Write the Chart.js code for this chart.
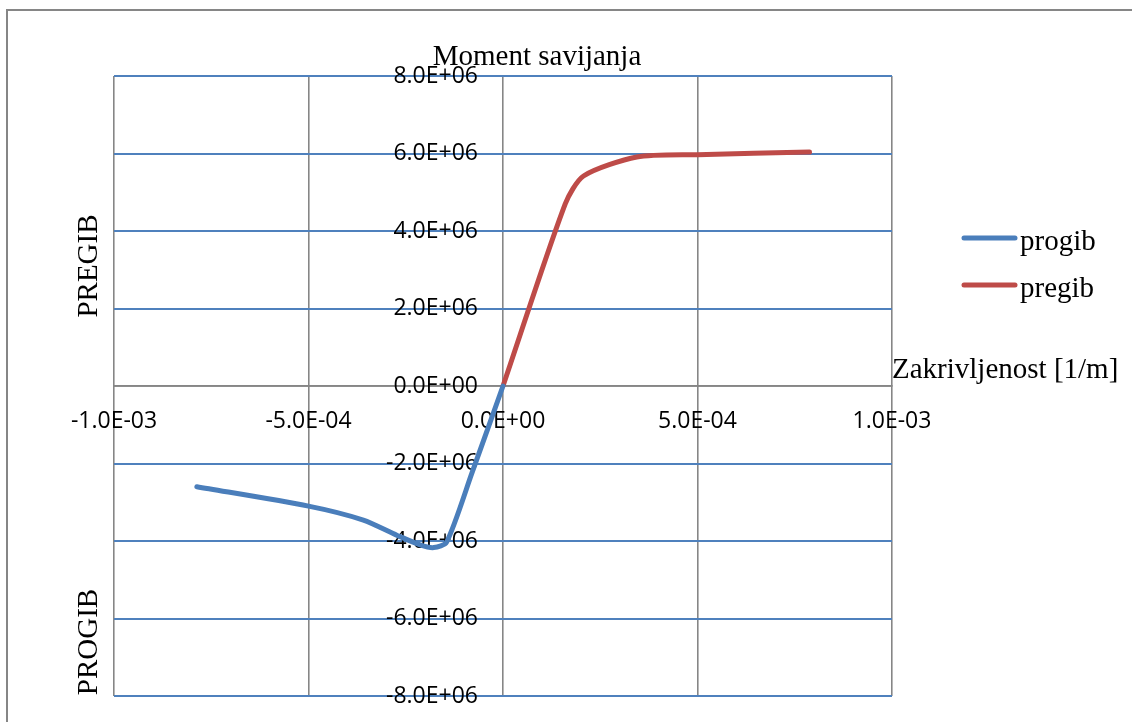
<!DOCTYPE html>
<html>
<head>
<meta charset="utf-8">
<script src="https://cdn.jsdelivr.net/npm/chart.js@4.4.0/dist/chart.umd.min.js"></script>
<style>
  body { margin: 0; background: #fff; }
</style>
</head>
<body>
<canvas id="chart" width="1133" height="722"></canvas>
<script>
// data
const progibX = [-7.87e-4, -5e-4, -3.59e-4, -2.73e-4, -2.13e-4, -1.78e-4, -1.45e-4, -0.8e-4, 0];
const progibY = [-2.6e6, -3.1e6, -3.46e6, -3.85e6, -4.1e6, -4.17e6, -4.03e6, -2.25e6, 0];
const pregibX = [0, 1.6e-4, 2.07e-4, 3.44e-4, 5e-4, 7.88e-4];
const pregibY = [0, 4.7e6, 5.42e6, 5.91e6, 5.97e6, 6.04e6];

const xTickValues = [-1e-3, -5e-4, 0, 5e-4, 1e-3];
const xTickLabels = ['-1.0E-03', '-5.0E-04', '0.0E+00', '5.0E-04', '1.0E-03'];
const yTickValues = [-8e6, -6e6, -4e6, -2e6, 0, 2e6, 4e6, 6e6, 8e6];
const yTickLabels = ['-8.0E+06', '-6.0E+06', '-4.0E+06', '-2.0E+06', '0.0E+00',
                     '2.0E+06', '4.0E+06', '6.0E+06', '8.0E+06'];

const seriesNames = ['progib', 'pregib'];
const seriesColors = ['#4a7ebb', '#be4b48'];

const GRAY = '#868686';
const BLUE_GRID = '#4f81bd';
const SERIF = '"Liberation Serif", "Times New Roman", serif';

const toPoints = (xs, ys) => xs.map((x, i) => ({ x: x, y: ys[i] }));

// frame, titles and legend drawn on the canvas
const decorations = {
  id: 'decorations',
  beforeDraw(chart) {
    const ctx = chart.ctx;
    ctx.save();
    ctx.strokeStyle = GRAY;
    ctx.lineWidth = 2;
    ctx.beginPath();
    ctx.moveTo(7, 722);
    ctx.lineTo(7, 10);
    ctx.lineTo(1132, 10);
    ctx.stroke();
    ctx.restore();
  },
  afterDraw(chart) {
    const ctx = chart.ctx;
    ctx.save();
    ctx.fillStyle = '#000';
    ctx.font = '29px ' + SERIF;
    ctx.textBaseline = 'alphabetic';

    ctx.textAlign = 'center';
    ctx.fillText('Moment savijanja', 537, 65);

    ctx.textAlign = 'left';
    ctx.fillText('Zakrivljenost [1/m]', 892, 378);

    // side labels
    ctx.textAlign = 'center';
    [['PREGIB', 266], ['PROGIB', 642]].forEach(([t, y]) => {
      ctx.save();
      ctx.translate(97, y);
      ctx.rotate(-Math.PI / 2);
      ctx.fillText(t, 0, 0);
      ctx.restore();
    });

    // legend
    ctx.textAlign = 'left';
    chart.data.datasets.forEach((ds, i) => {
      const y = 238 + 47 * i;
      ctx.strokeStyle = ds.borderColor;
      ctx.lineWidth = 5;
      ctx.lineCap = 'round';
      ctx.beginPath();
      ctx.moveTo(964, y);
      ctx.lineTo(1015, y);
      ctx.stroke();
      ctx.fillText(ds.label, 1020, y + 12);
    });
    ctx.restore();
  }
};

// y labels sit ~25px left of the zero line; the line itself is the x grid at 0
const yLabelShift = -25 / 389 * 1e-3;

new Chart(document.getElementById('chart'), {
  type: 'scatter',
  data: {
    datasets: [{
      label: seriesNames[0],
      data: toPoints(progibX, progibY),
      borderColor: seriesColors[0],
      backgroundColor: seriesColors[0],
      borderWidth: 5,
      showLine: true,
      pointRadius: 0,
      tension: 0.25,
      borderCapStyle: 'round',
      borderJoinStyle: 'round'
    }, {
      label: seriesNames[1],
      data: toPoints(pregibX, pregibY),
      borderColor: seriesColors[1],
      backgroundColor: seriesColors[1],
      borderWidth: 5,
      showLine: true,
      pointRadius: 0,
      tension: 0.25,
      borderCapStyle: 'round',
      borderJoinStyle: 'round'
    }]
  },
  options: {
    responsive: false,
    animation: false,
    devicePixelRatio: 1,
    layout: { padding: { left: 114, top: 76, right: 241, bottom: 26 } },
    plugins: {
      legend: { display: false },
      tooltip: { enabled: false }
    },
    scales: {
      x: {
        type: 'linear',
        position: { y: 0 },
        min: -1e-3,
        max: 1e-3,
        afterBuildTicks: s => { s.ticks = xTickValues.map(v => ({ value: v })); },
        ticks: {
          callback: (v, i) => xTickLabels[i],
          font: { family: '"Open Sans"', size: 23 },
          color: '#000',
          padding: 22,
          maxRotation: 0
        },
        grid: { color: GRAY, lineWidth: 1.6, drawTicks: false },
        border: { color: GRAY, width: 1.8 }
      },
      y: {
        type: 'linear',
        position: { x: yLabelShift },
        min: -8e6,
        max: 8e6,
        afterBuildTicks: s => { s.ticks = yTickValues.map(v => ({ value: v })); },
        ticks: {
          callback: (v, i) => yTickLabels[i],
          font: { family: '"Open Sans"', size: 23 },
          color: '#000'
        },
        grid: {
          color: c => (c.tick && c.tick.value === 0 ? GRAY : BLUE_GRID),
          lineWidth: c => (c.tick && c.tick.value === 0 ? 1.8 : 2),
          drawTicks: false
        },
        border: { display: false }
      }
    }
  },
  plugins: [decorations]
});
</script>
</body>
</html>
